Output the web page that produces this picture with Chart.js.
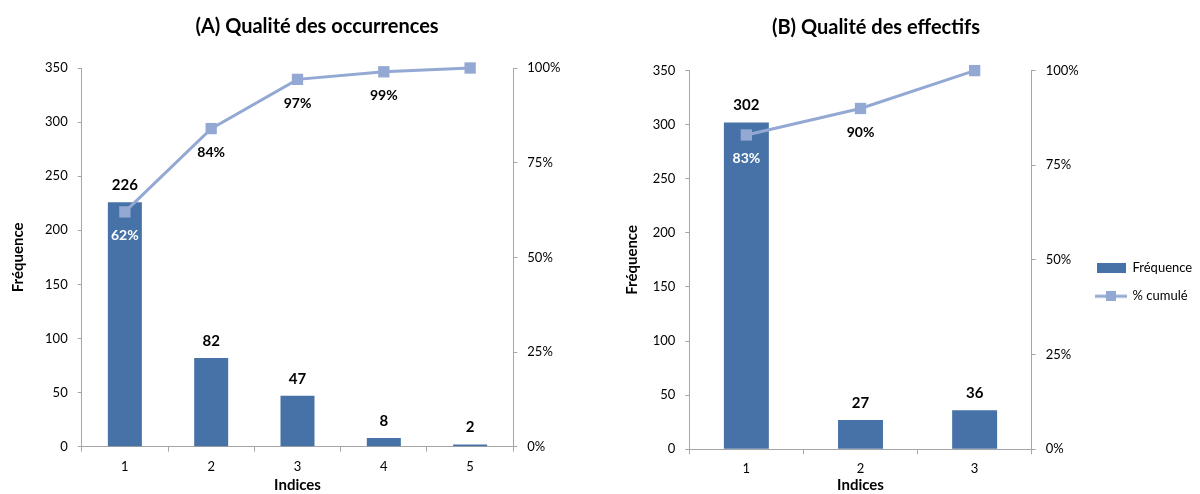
<!DOCTYPE html>
<html>
<head>
<meta charset="utf-8">
<script src="https://cdn.jsdelivr.net/npm/chart.js@4.4.1/dist/chart.umd.min.js"></script>
<style>
  html, body { margin: 0; padding: 0; background: #ffffff; width: 1200px; height: 494px; overflow: hidden; }
  #wrapA { position: absolute; left: 0; top: 0; width: 634px; height: 494px; }
  #wrapB { position: absolute; left: 552px; top: 0; width: 648px; height: 494px; }
</style>
</head>
<body>
<div id="wrapA"><canvas id="chartA" width="634" height="494"></canvas></div>
<div id="wrapB"><canvas id="chartB" width="648" height="494"></canvas></div>
<script>
// ---- Data ----
const categoriesA = ['1', '2', '3', '4', '5'];
const freqA = [226, 82, 47, 8, 2];
const cumPctA = [62, 84, 97, 99, 100];

const categoriesB = ['1', '2', '3'];
const freqB = [302, 27, 36];
const cumPctB = [83, 90, 100];

const titleA = '(A) Qualité des occurrences';
const titleB = '(B) Qualité des effectifs';
const seriesNames = ['Fréquence', '% cumulé'];
const xTitle = 'Indices';
const yTitle = 'Fréquence';

// ---- Styles ----
const FONT = 'Lato';
const BAR_COLOR = '#4672A7';
const LINE_COLOR = '#93A9D4';
const AXIS_COLOR = '#A6A6A6';

const valueLabels = {
  id: 'valueLabels',
  afterDatasetsDraw(chart) {
    const ctx = chart.ctx;
    const bars = chart.getDatasetMeta(0).data;
    const pts = chart.getDatasetMeta(1).data;
    const barVals = chart.data.datasets[0].data;
    const pctVals = chart.data.datasets[1].data;
    ctx.save();
    ctx.textAlign = 'center';
    ctx.textBaseline = 'middle';
    ctx.font = 'bold 15px ' + FONT;
    ctx.fillStyle = '#000';
    bars.forEach((b, i) => ctx.fillText(String(barVals[i]), b.x, b.y - 17));
    ctx.font = 'bold 14px ' + FONT;
    pts.forEach((p, i) => {
      if (i === pts.length - 1) return;
      const y = p.y + 24;
      ctx.fillStyle = (y > bars[i].y) ? '#ffffff' : '#000000';
      ctx.fillText(pctVals[i] + '%', p.x, y);
    });
    ctx.restore();
  }
};

function legendImages() {
  const r = document.createElement('canvas');
  r.width = 29; r.height = 10;
  const rc = r.getContext('2d');
  rc.fillStyle = BAR_COLOR; rc.fillRect(0, 0, 29, 10);
  const l = document.createElement('canvas');
  l.width = 32; l.height = 10;
  const lc = l.getContext('2d');
  lc.fillStyle = LINE_COLOR;
  lc.fillRect(0, 3.5, 32, 3);
  lc.fillRect(11, 0, 10, 10);
  return [r, l];
}

function makeChart(id, cats, freq, pct, title, opts) {
  const ctx = document.getElementById(id);
  return new Chart(ctx, {
    data: {
      labels: cats,
      datasets: [
        {
          type: 'bar', label: seriesNames[0], data: freq, yAxisID: 'y',
          backgroundColor: BAR_COLOR, borderWidth: 0,
          categoryPercentage: 1, barPercentage: 0.394, order: 1
        },
        {
          type: 'line', label: seriesNames[1], data: pct, yAxisID: 'y1',
          borderColor: LINE_COLOR, backgroundColor: LINE_COLOR, borderWidth: 3,
          pointStyle: 'rect', pointRadius: 8, pointBorderWidth: 0,
          pointBackgroundColor: LINE_COLOR, tension: 0, clip: false, order: 0
        }
      ]
    },
    options: {
      responsive: false,
      animation: false,
      layout: { padding: 0 },
      plugins: {
        title: {
          display: true, text: title, color: '#000',
          font: { family: FONT, size: 20, weight: 'bold' },
          padding: opts.titlePad
        },
        tooltip: { enabled: false },
        legend: opts.legend
      },
      scales: {
        x: {
          offset: true,
          grid: { display: true, drawOnChartArea: false, offset: true, tickLength: 5, color: AXIS_COLOR },
          border: { color: AXIS_COLOR },
          ticks: { color: '#000', font: { family: FONT, size: 13 }, padding: 7 },
          title: { display: true, text: xTitle, color: '#000', font: { family: FONT, size: 15, weight: 'bold' }, padding: { top: 0, bottom: 0 } },
          afterFit(s) { s.height = opts.xHeight; }
        },
        y: {
          position: 'left', min: 0, max: 350,
          grid: { display: true, drawOnChartArea: false, tickLength: 4, color: AXIS_COLOR },
          border: { color: AXIS_COLOR },
          ticks: { stepSize: 50, color: '#000', font: { family: FONT, size: 13 }, padding: 10 },
          title: { display: true, text: yTitle, color: '#000', font: { family: FONT, size: 15, weight: 'bold' }, padding: { top: opts.yTitlePad, bottom: 0 } },
          afterFit(s) { s.width = opts.leftW; }
        },
        y1: {
          position: 'right', min: 0, max: 100,
          grid: { display: true, drawOnChartArea: false, tickLength: 4, color: AXIS_COLOR },
          border: { color: AXIS_COLOR },
          ticks: { stepSize: 25, color: '#000', font: { family: FONT, size: 13 }, padding: 10, callback: v => v + '%' },
          afterFit(s) { s.width = opts.rightW; }
        }
      }
    },
    plugins: [valueLabels]
  });
}

const imgs = legendImages();

makeChart('chartA', categoriesA, freqA, cumPctA, titleA, {
  titlePad: { top: 15, bottom: 29 },
  xHeight: 47.3, leftW: 81.7, rightW: 634 - 513.3, yTitlePad: 9,
  legend: { display: false }
});

makeChart('chartB', categoriesB, freqB, cumPctB, titleB, {
  titlePad: { top: 16, bottom: 30.6 },
  xHeight: 44.7, leftW: 137.3, rightW: 49.3, yTitlePad: 71,
  legend: {
    display: true, position: 'right', align: 'center', maxWidth: 119,
    title: { display: true, text: '', font: { size: 12 }, padding: { top: 56, bottom: 0 } },
    labels: {
      usePointStyle: true, pointStyleWidth: 30, boxHeight: 13, padding: 15,
      color: '#000', font: { family: FONT, size: 13 },
      generateLabels: () => seriesNames.map((n, i) => ({
        text: n, pointStyle: imgs[i], fillStyle: i ? LINE_COLOR : BAR_COLOR,
        strokeStyle: 'rgba(0,0,0,0)', lineWidth: 0, hidden: false, datasetIndex: i, fontColor: '#000'
      }))
    }
  }
});
</script>
</body>
</html>
